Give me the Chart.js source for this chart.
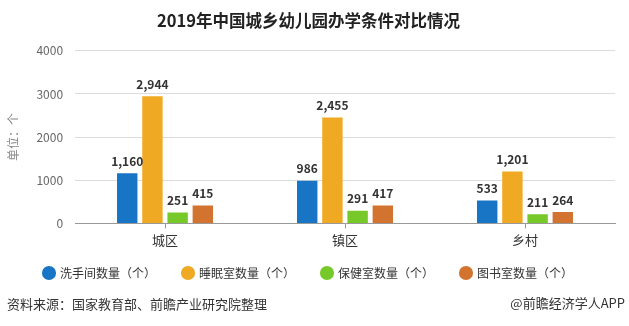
<!DOCTYPE html>
<html>
<head>
<meta charset="utf-8">
<script src="https://cdn.jsdelivr.net/npm/chart.js@4"></script>
<style>
  html, body { margin: 0; padding: 0; background: #fff; }
  #wrap { width: 629px; height: 326px; position: relative; }
</style>
</head>
<body>
<div id="wrap"><canvas id="myChart" width="629" height="326"></canvas></div>
<script>
let labels = ['城区', '镇区', '乡村'];
let washrooms = [1160, 986, 533];
let bedrooms = [2944, 2455, 1201];
let clinics = [251, 291, 211];
let libraries = [415, 417, 264];
let seriesNames = ['洗手间数量（个）', '睡眠室数量（个）', '保健室数量（个）', '图书室数量（个）'];
let colorHex = ['#1874c4', '#f0a922', '#77c829', '#d2732f'];
let yTicks = [0, 1000, 2000, 3000, 4000];

const font = '"Noto Sans CJK SC", "Noto Sans", sans-serif';

// value labels above bars + footer text
const extras = {
  id: 'extras',
  afterDatasetsDraw(chart) {
    let c = chart.ctx;
    c.save();
    c.font = 'bold 12px ' + font;
    c.fillStyle = '#333';
    c.textAlign = 'center';
    c.textBaseline = 'bottom';
    chart.data.datasets.forEach((ds, i) => {
      chart.getDatasetMeta(i).data.forEach((bar, j) => {
        c.fillText(ds.data[j].toLocaleString('en-US'), bar.x, bar.y - 6);
      });
    });
    c.restore();
  },
  afterDraw(chart) {
    let c = chart.ctx;
    c.save();
    c.font = '13px ' + font;
    c.fillStyle = '#333';
    c.textBaseline = 'middle';
    c.textAlign = 'left';
    c.fillText('资料来源：国家教育部、前瞻产业研究院整理', 7, 304);
    c.textAlign = 'right';
    c.fillText('@前瞻经济学人APP', 625, 303);
    c.restore();
  }
};

let ctx = document.getElementById('myChart').getContext('2d');
let myChart = new Chart(ctx, {
  type: 'bar',
  data: {
    labels: labels,
    datasets: [washrooms, bedrooms, clinics, libraries].map((d, i) => ({
      label: seriesNames[i],
      data: d,
      backgroundColor: colorHex[i],
      barPercentage: 0.81,
      categoryPercentage: 0.56
    }))
  },
  options: {
    responsive: false,
    animation: false,
    layout: { padding: { left: 2, right: 14, top: 0, bottom: 37 } },
    plugins: {
      title: {
        display: true,
        text: '2019年中国城乡幼儿园办学条件对比情况',
        font: { family: font, size: 16.5, weight: 'bold' },
        color: '#222',
        padding: { top: 11, bottom: 20 }
      },
      legend: {
        position: 'bottom',
        labels: {
          usePointStyle: true,
          pointStyle: 'circle',
          boxWidth: 10,
          boxHeight: 10,
          padding: 15,
          color: '#333',
          font: { family: font, size: 12 },
          // trailing em space widens the gap between items (not after the last one)
          generateLabels: (chart) => {
            let items = Chart.defaults.plugins.legend.labels.generateLabels(chart);
            return items.map((item, i) => Object.assign(item, { text: i < items.length - 1 ? item.text + '\u2003' : item.text }));
          }
        }
      },
      tooltip: { enabled: false }
    },
    scales: {
      x: {
        grid: { drawOnChartArea: false, drawTicks: true, tickLength: 5, offset: false, color: '#999' },
        border: { color: '#999' },
        ticks: { color: '#333', font: { family: font, size: 13 }, padding: 4 }
      },
      y: {
        min: 0,
        max: 4000,
        afterBuildTicks: (axis) => { axis.ticks = yTicks.map(v => ({ value: v })); },
        grid: { color: '#dcdcdc', drawTicks: false },
        border: { display: false },
        ticks: { color: '#666', font: { family: font, size: 12 }, padding: 12, callback: v => String(v) },
        title: { display: true, text: '单位：个', color: '#888', font: { family: font, size: 12 }, padding: 4 }
      }
    }
  },
  plugins: [extras]
});
</script>
</body>
</html>
